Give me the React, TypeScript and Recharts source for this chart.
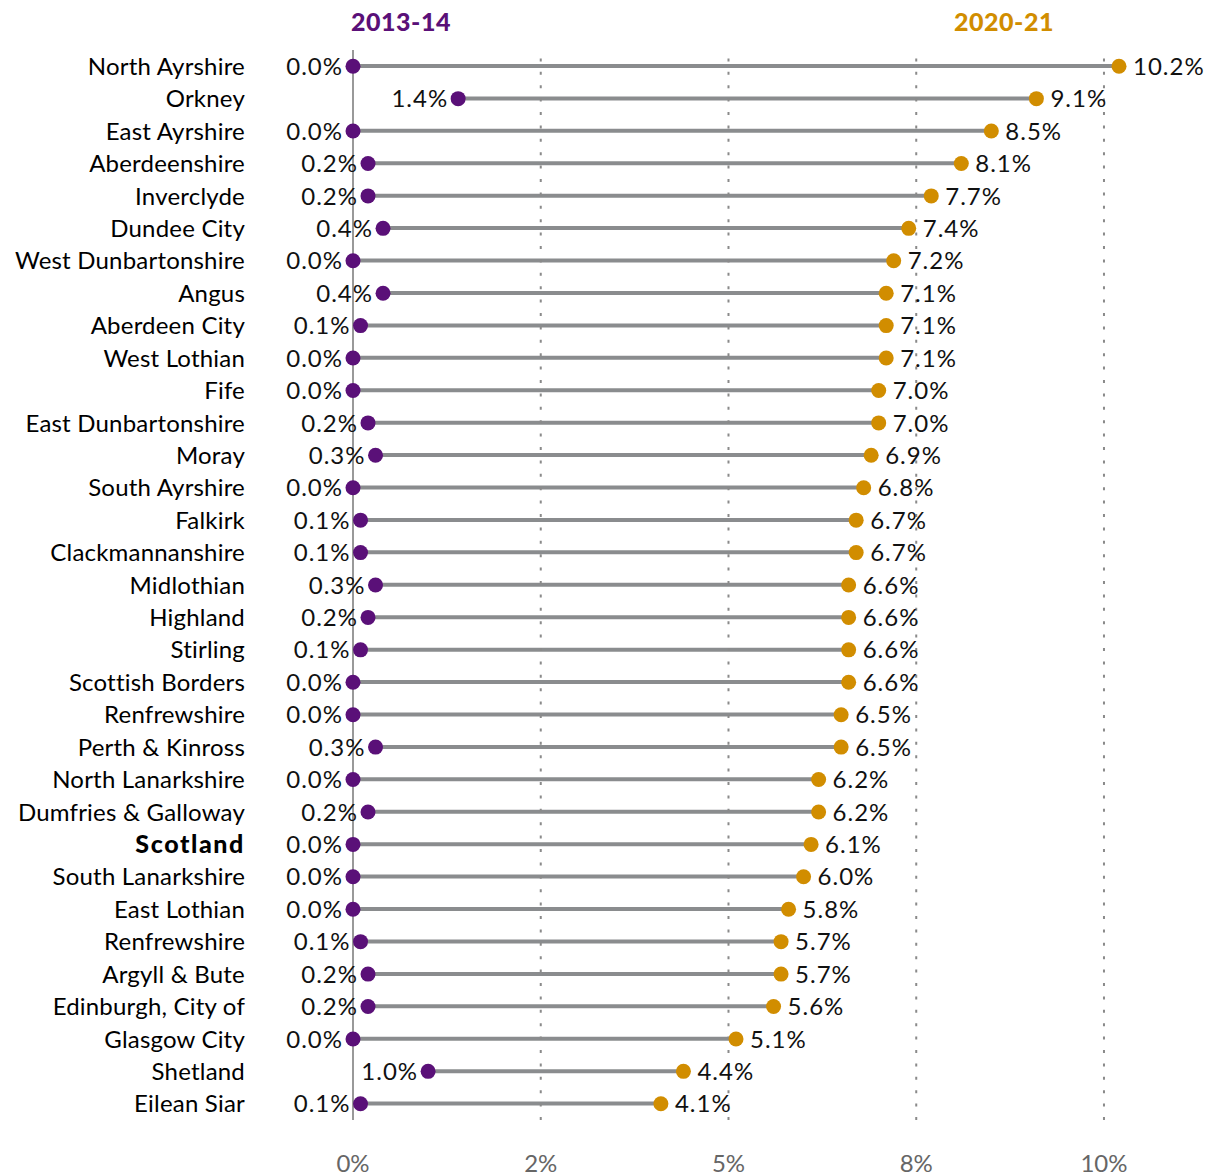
import React from "react";
import {
  ComposedChart,
  Bar,
  Line,
  XAxis,
  YAxis,
  ReferenceLine,
  LabelList,
} from "recharts";

const areas = [
  "North Ayrshire", "Orkney", "East Ayrshire", "Aberdeenshire", "Inverclyde",
  "Dundee City", "West Dunbartonshire", "Angus", "Aberdeen City", "West Lothian",
  "Fife", "East Dunbartonshire", "Moray", "South Ayrshire", "Falkirk",
  "Clackmannanshire", "Midlothian", "Highland", "Stirling", "Scottish Borders",
  "Renfrewshire", "Perth & Kinross", "North Lanarkshire", "Dumfries & Galloway",
  "Scotland", "South Lanarkshire", "East Lothian", "Renfrewshire", "Argyll & Bute",
  "Edinburgh, City of", "Glasgow City", "Shetland", "Eilean Siar",
];

const values2013 = [
  0.0, 1.4, 0.0, 0.2, 0.2, 0.4, 0.0, 0.4, 0.1, 0.0, 0.0, 0.2, 0.3, 0.0, 0.1,
  0.1, 0.3, 0.2, 0.1, 0.0, 0.0, 0.3, 0.0, 0.2, 0.0, 0.0, 0.0, 0.1, 0.2, 0.2,
  0.0, 1.0, 0.1,
];

const values2021 = [
  10.2, 9.1, 8.5, 8.1, 7.7, 7.4, 7.2, 7.1, 7.1, 7.1, 7.0, 7.0, 6.9, 6.8, 6.7,
  6.7, 6.6, 6.6, 6.6, 6.6, 6.5, 6.5, 6.2, 6.2, 6.1, 6.0, 5.8, 5.7, 5.7, 5.6,
  5.1, 4.4, 4.1,
];

const xTicks = [0, 2.5, 5, 7.5, 10];
const xTickLabels = ["0%", "2%", "5%", "8%", "10%"];
const xDomainMax = 10.2;

const seriesNames = ["2013-14", "2020-21"];

const PURPLE = "#5a1078";
const ORANGE = "#d18d00";
const GREY = "#8a8c8e";
const FONT = "Lato, 'Open Sans', sans-serif";

const data = areas.map((name, i) => ({
  id: String(i),
  name,
  a: values2013[i],
  b: values2021[i],
}));

const YTick = (props: any) => {
  const { x, y, payload } = props;
  const name = areas[Number(payload.value)];
  const bold = name === "Scotland";
  return (
    <text
      x={x}
      y={y}
      dy="0.36em"
      textAnchor="end"
      fontFamily={FONT}
      fontSize={bold ? 25 : 24}
      fontWeight={bold ? 900 : 400}
      letterSpacing={bold ? 1.6 : 0.2}
      fill="#000"
    >
      {name}
    </text>
  );
};

const LeftLabel = (props: any) => {
  const { x, y, value } = props;
  return (
    <text
      x={x - 10}
      y={y}
      dy="0.36em"
      textAnchor="end"
      fontFamily={FONT}
      fontSize={24}
      fill="#111"
      letterSpacing={1}
    >
      {Number(value).toFixed(1) + "%"}
    </text>
  );
};

const RightLabel = (props: any) => {
  const { x, y, value } = props;
  return (
    <text
      x={x + 14}
      y={y}
      dy="0.36em"
      textAnchor="start"
      fontFamily={FONT}
      fontSize={24}
      fill="#111"
      letterSpacing={1}
    >
      {Number(value).toFixed(1) + "%"}
    </text>
  );
};

export default function App() {
  return (
    <div style={{ position: "absolute", left: 0, top: 0, width: 1221, height: 1176 }}>
      <svg
        width={1221}
        height={44}
        style={{ position: "absolute", left: 0, top: 0 }}
      >
        <text x={401} y={31} textAnchor="middle" fontFamily={FONT} fontWeight={900} fontSize={25} letterSpacing={0.5} fill={PURPLE}>
          {seriesNames[0]}
        </text>
        <text x={1004} y={31} textAnchor="middle" fontFamily={FONT} fontWeight={900} fontSize={25} letterSpacing={0.5} fill={ORANGE}>
          {seriesNames[1]}
        </text>
      </svg>
      <ComposedChart
        width={1221}
        height={1176}
        data={data}
        layout="vertical"
        margin={{ top: 50, right: 102, bottom: 0, left: 0 }}
      >
        <XAxis
          type="number"
          domain={[0, xDomainMax]}
          ticks={xTicks}
          tickFormatter={(v: number) => xTickLabels[xTicks.indexOf(v)]}
          axisLine={false}
          tickLine={false}
          tickSize={0}
          tickMargin={35}
          height={56}
          tick={{ fontFamily: FONT, fontSize: 24, fill: "#666" }}
          interval={0}
        />
        <YAxis
          type="category"
          dataKey="id"
          width={353}
          axisLine={false}
          tickLine={false}
          tickSize={0}
          tickMargin={108}
          tick={<YTick />}
          interval={0}
        />
        {xTicks.slice(1).map((t) => (
          <ReferenceLine
            key={t}
            x={t}
            stroke="#8a8a8a"
            strokeWidth={2}
            strokeDasharray="3 10.4"
          />
        ))}
        <ReferenceLine x={0} stroke="#999" strokeWidth={2} />
        <Bar
          dataKey={(d: any) => [d.a, d.b]}
          barSize={4}
          fill={GREY}
          isAnimationActive={false}
        />
        <Line
          dataKey="a"
          stroke="none"
          strokeWidth={0}
          dot={{ r: 7.5, fill: PURPLE, stroke: "none" }}
          activeDot={false}
          isAnimationActive={false}
        >
          <LabelList dataKey="a" content={<LeftLabel />} />
        </Line>
        <Line
          dataKey="b"
          stroke="none"
          strokeWidth={0}
          dot={{ r: 7.5, fill: ORANGE, stroke: "none" }}
          activeDot={false}
          isAnimationActive={false}
        >
          <LabelList dataKey="b" content={<RightLabel />} />
        </Line>
      </ComposedChart>
    </div>
  );
}
